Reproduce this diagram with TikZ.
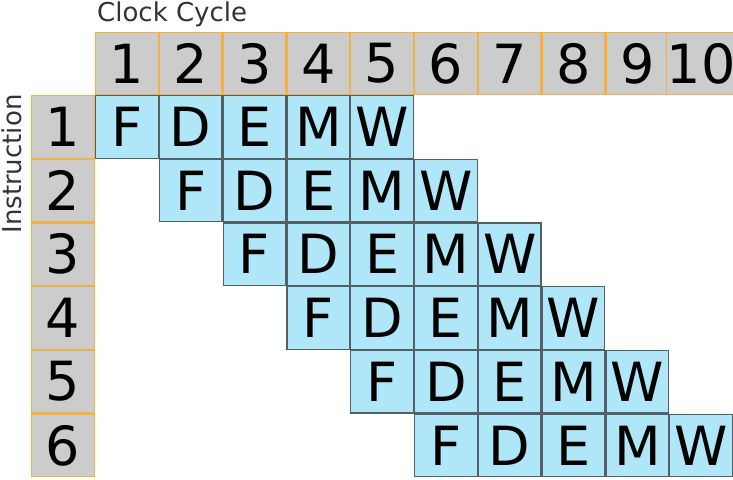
\documentclass[tikz,border=0pt]{standalone}
\usepackage{fontspec}
\setmainfont{DejaVu Sans}
\usetikzlibrary{positioning}

\definecolor{headgray}{RGB}{204,204,204}
\definecolor{headedge}{RGB}{246,176,64}
\definecolor{stagefill}{RGB}{175,230,248}
\definecolor{stageedge}{RGB}{85,95,102}
\definecolor{labelgray}{RGB}{51,51,51}

\tikzset{
    cyclebox/.style={rectangle, minimum width=62.6pt, minimum height=62.5pt, inner sep=0pt, fill=headgray, draw=headedge, line width=1.2pt, font=\fontsize{54}{54}\selectfont},
    stagebox/.style={rectangle, minimum width=62.6pt, minimum height=62.5pt, inner sep=0pt, fill=stagefill, draw=stageedge, line width=1.2pt, font=\fontsize{54}{54}\selectfont},
    axislabel/.style={text=labelgray, inner sep=0pt, font=\fontsize{26}{26}\selectfont}
}

\begin{document}
\begin{tikzpicture}[x=1pt, y=-1pt]
    \useasboundingbox (0,0) rectangle (733,479);

    % clock cycles along the top
    \foreach \j in {1,...,10} {
        \node [cyclebox] (c\j) at ({95+(\j-0.5)*63.8}, 63.5) {\j};
    }
    % instructions down the side
    \foreach \i in {1,...,6} {
        \node [cyclebox] (i\i) at (63, {95+(\i-0.5)*63.7}) {\i};
    }
    % pipeline stages
    \foreach \i in {1,...,6} {
        \foreach \s [count=\k from 0] in {F,D,E,M,W} {
            \node [stagebox] (s\i\s) at ({95+(\i+\k-0.5)*63.8}, {95+(\i-0.5)*63.7}) {\s};
        }
    }

    \node [axislabel, anchor=base west] (cyclelabel) at (97, 21) {Clock Cycle};
    \node [axislabel, rotate=90, anchor=base] (instrlabel) at (21, 164) {Instruction};
\end{tikzpicture}
\end{document}
